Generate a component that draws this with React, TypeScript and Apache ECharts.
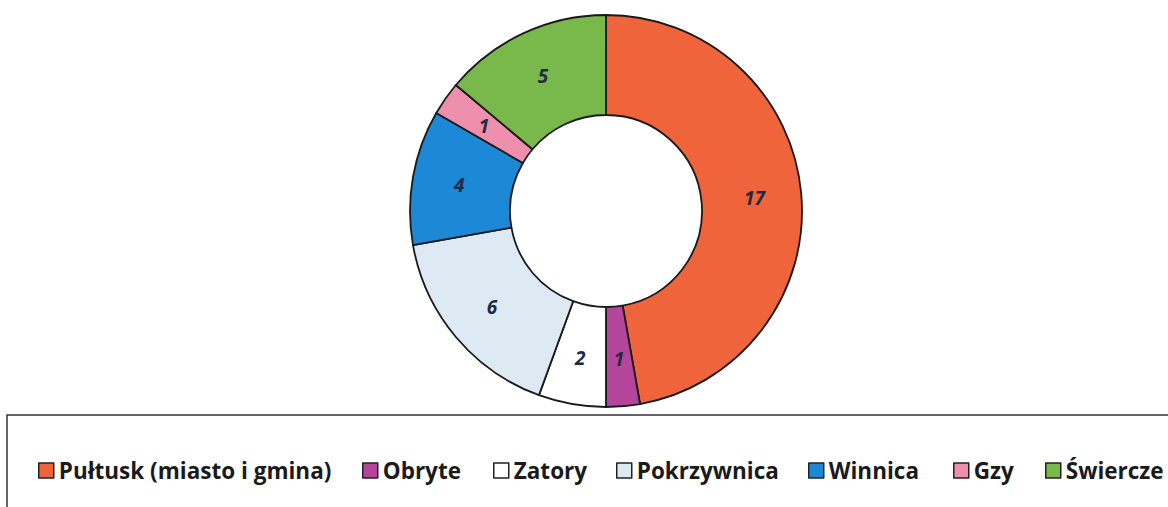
import React, { useEffect, useRef } from "react";
import * as echarts from "echarts";

const categories = ["Pułtusk (miasto i gmina)", "Obryte", "Zatory", "Pokrzywnica", "Winnica", "Gzy", "Świercze"];
const values = [17, 1, 2, 6, 4, 1, 5];
const colors = ["#F0643C", "#B5449B", "#FFFFFF", "#DDEAF4", "#1C88D6", "#EE8FAD", "#79B94C"];
const legendLeft = [38, 362, 493, 616, 808, 953, 1045];

export default function App() {
  const ref = useRef<HTMLDivElement>(null);
  useEffect(() => {
    if (!ref.current) return;
    const chart = echarts.init(ref.current, null, { renderer: "svg" });
    const font = "'Open Sans', Lato, sans-serif";
    const legends = categories.map((name, i) => ({
      data: [name],
      left: legendLeft[i],
      top: 459,
      padding: 0,
      orient: "horizontal",
      icon: "rect",
      itemWidth: 15,
      itemHeight: 15,
      selectedMode: false,
      itemStyle: { borderColor: "#222222", borderWidth: 1.5 },
      textStyle: {
        fontFamily: font,
        fontWeight: "bold",
        fontSize: 22.5,
        color: "#1a1a1a",
        lineHeight: 15,
      },
    }));
    chart.setOption({
      animation: false,
      backgroundColor: "#ffffff",
      legend: legends,
      graphic: [
        {
          type: "rect",
          shape: { x: 7, y: 415, width: 1175, height: 110 },
          style: { fill: "none", stroke: "#333333", lineWidth: 1.5 },
          silent: true,
        },
      ],
      series: [
        {
          type: "pie",
          center: [606, 211],
          radius: [96, 196],
          startAngle: 90,
          clockwise: true,
          avoidLabelOverlap: false,
          itemStyle: { borderColor: "#1a1a1a", borderWidth: 1.8 },
          label: {
            show: true,
            position: "inside",
            formatter: "{c}",
            fontFamily: font,
            fontWeight: "bold",
            fontStyle: "italic",
            fontSize: 19,
            color: "#1F2A44",
          },
          labelLine: { show: false },
          data: categories.map((name, i) => ({
            name,
            value: values[i],
            itemStyle: { color: colors[i] },
          })),
        },
      ],
    });
    return () => chart.dispose();
  }, []);
  return (
    <div
      ref={ref}
      style={{ position: "fixed", left: 0, top: 0, width: 1168, height: 507, background: "#fff" }}
    />
  );
}
